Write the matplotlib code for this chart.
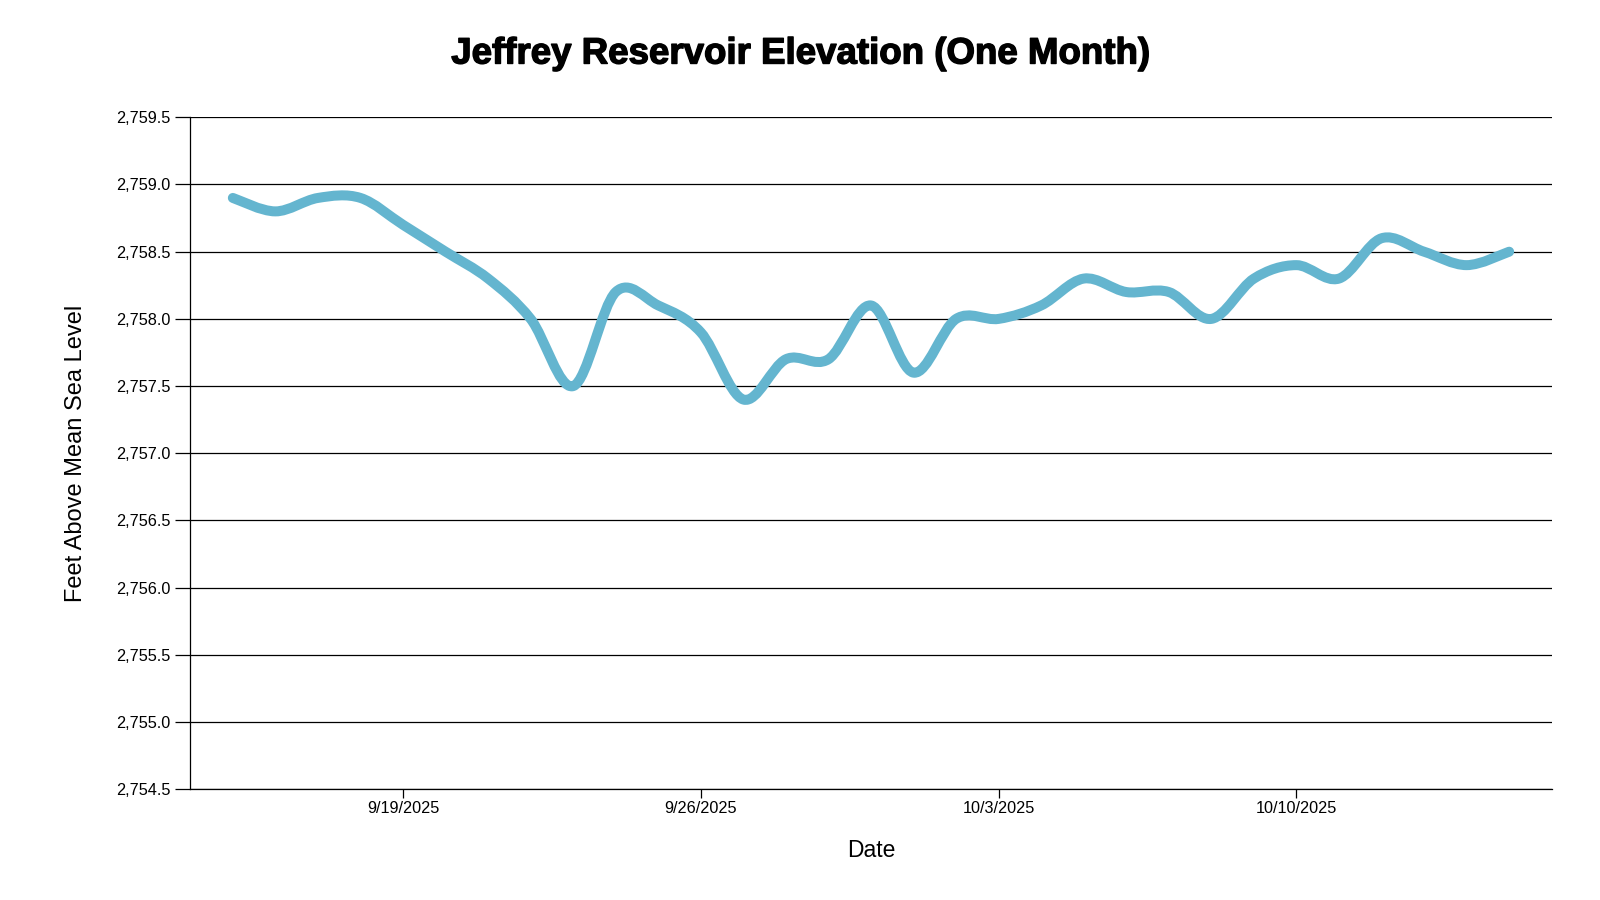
import matplotlib
matplotlib.use('Agg')
import matplotlib.pyplot as plt
import matplotlib.dates as mdates
import matplotlib.patheffects as pe
from matplotlib.path import Path
from matplotlib.patches import PathPatch
from matplotlib.ticker import FuncFormatter, MultipleLocator
import datetime as dt

plt.rcParams['font.family'] = ['Liberation Sans', 'DejaVu Sans']

# ---- data ----
dates = ['2025-09-15', '2025-09-16', '2025-09-17', '2025-09-18', '2025-09-19',
         '2025-09-20', '2025-09-21', '2025-09-22', '2025-09-23', '2025-09-24',
         '2025-09-25', '2025-09-26', '2025-09-27', '2025-09-28', '2025-09-29',
         '2025-09-30', '2025-10-01', '2025-10-02', '2025-10-03', '2025-10-04',
         '2025-10-05', '2025-10-06', '2025-10-07', '2025-10-08', '2025-10-09',
         '2025-10-10', '2025-10-11', '2025-10-12', '2025-10-13', '2025-10-14',
         '2025-10-15']
elevations = [2758.9, 2758.8, 2758.9, 2758.9, 2758.7, 2758.5, 2758.3, 2758.0,
              2757.5, 2758.2, 2758.1, 2757.9, 2757.4, 2757.7, 2757.7, 2758.1,
              2757.6, 2758.0, 2758.0, 2758.1, 2758.3, 2758.2, 2758.2, 2758.0,
              2758.3, 2758.4, 2758.3, 2758.6, 2758.5, 2758.4, 2758.5]
tick_dates = ['2025-09-19', '2025-09-26', '2025-10-03', '2025-10-10']
x_range = ['2025-09-14', '2025-10-16']
y_range = [2754.5, 2759.5]
title = 'Jeffrey Reservoir Elevation (One Month)'
line_color = '#64b5cf'

def todate(s):
    return dt.datetime.strptime(s, '%Y-%m-%d')

xs = [mdates.date2num(todate(d)) for d in dates]
ys = elevations

fig = plt.figure(figsize=(16, 9), dpi=100)
ax = fig.add_axes([190.3 / 1600, 1 - 789.3 / 900, (1551.7 - 190.3) / 1600, (789.3 - 117.3) / 900])

# smooth cardinal (Catmull-Rom) curve through the data points
n = len(xs)
verts = [(xs[0], ys[0])]
codes = [Path.MOVETO]
for i in range(n - 1):
    p0 = (xs[max(i - 1, 0)], ys[max(i - 1, 0)])
    p1 = (xs[i], ys[i])
    p2 = (xs[i + 1], ys[i + 1])
    p3 = (xs[min(i + 2, n - 1)], ys[min(i + 2, n - 1)])
    c1 = (p1[0] + (p2[0] - p0[0]) / 6, p1[1] + (p2[1] - p0[1]) / 6)
    c2 = (p2[0] - (p3[0] - p1[0]) / 6, p2[1] - (p3[1] - p1[1]) / 6)
    verts += [c1, c2, p2]
    codes += [Path.CURVE4, Path.CURVE4, Path.CURVE4]
patch = PathPatch(Path(verts, codes), facecolor='none', edgecolor=line_color,
                  lw=7.2, capstyle='round', joinstyle='round', zorder=3)
ax.add_patch(patch)

ax.set_xlim(mdates.date2num(todate(x_range[0])), mdates.date2num(todate(x_range[1])))
ax.set_ylim(*y_range)

ticks = [mdates.date2num(todate(d)) for d in tick_dates]
ax.set_xticks(ticks)
ax.set_xticklabels([f"{todate(d).month}/{todate(d).day}/{todate(d).year}" for d in tick_dates])
ax.yaxis.set_major_locator(MultipleLocator(0.5))
ax.yaxis.set_major_formatter(FuncFormatter(lambda v, p: f"{v:,.1f}"))

ax.yaxis.grid(True, color='black', lw=0.9)
ax.set_axisbelow(True)
for s in ['top', 'right']:
    ax.spines[s].set_visible(False)
for s in ['left', 'bottom']:
    ax.spines[s].set_color('black')
    ax.spines[s].set_linewidth(0.9)
ax.tick_params(axis='y', length=10.8, width=0.9, pad=3.5, labelsize=11.7, colors='black')
ax.tick_params(axis='x', length=6.7, width=0.9, pad=2, labelsize=11.7, colors='black')

ax.set_ylabel('Feet Above Mean Sea Level', fontsize=17, labelpad=21)
ax.set_xlabel('Date', fontsize=16.5, labelpad=16)
fig.text(0.5, 1 - 54 / 900, title, ha='center', va='center',
         fontsize=26.4, fontweight='bold',
         path_effects=[pe.withStroke(linewidth=1.0, foreground='black')])

fig.savefig('out.png', dpi=100)
